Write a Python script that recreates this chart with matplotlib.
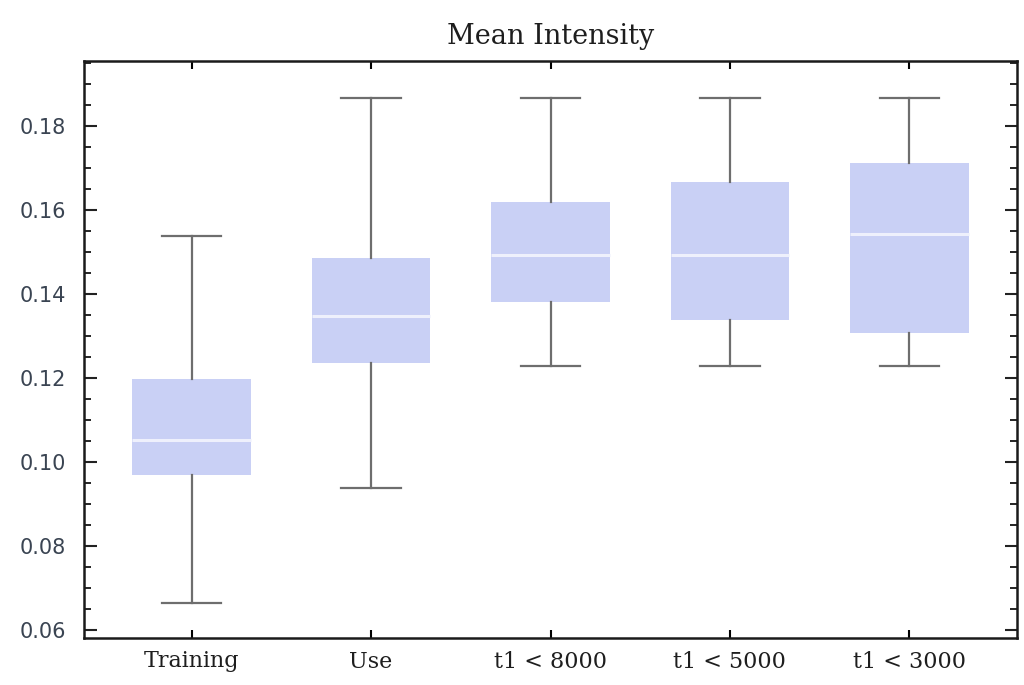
import matplotlib
matplotlib.use("Agg")
import matplotlib.pyplot as plt
from matplotlib.ticker import MultipleLocator, FormatStrFormatter

categories = ["Training", "Use", "t1 < 8000", "t1 < 5000", "t1 < 3000"]
whisker_low = [0.0664, 0.0938, 0.1229, 0.1229, 0.1229]
q1 = [0.0969, 0.1236, 0.1381, 0.1338, 0.1307]
median = [0.1052, 0.1348, 0.1493, 0.1493, 0.1543]
q3 = [0.1198, 0.1486, 0.1619, 0.1667, 0.1712]
whisker_high = [0.1538, 0.1867, 0.1867, 0.1867, 0.1867]

plt.rcParams["font.family"] = ["DejaVu Serif"]

fig = plt.figure(figsize=(10.24, 6.85), dpi=100)
ax = fig.add_axes([84 / 1024, 1 - 638 / 685, (1017 - 84) / 1024, (638 - 61) / 685])

stats = []
for name, lo, a, m, b, hi in zip(categories, whisker_low, q1, median, q3, whisker_high):
    stats.append(dict(label=name, whislo=lo, q1=a, med=m, q3=b, whishi=hi, fliers=[]))

positions = list(range(1, len(categories) + 1))
ax.bxp(
    stats,
    positions=positions,
    widths=0.66,
    patch_artist=True,
    showfliers=False,
    boxprops=dict(facecolor="#c9d0f5", edgecolor="none", linewidth=0),
    medianprops=dict(color="#eef0fc", linewidth=2.2),
    whiskerprops=dict(color="#6e6e6e", linewidth=1.6),
    capprops=dict(color="#6e6e6e", linewidth=1.6),
    capwidths=0.33,
)

ax.set_xlim(0.4, 5.6)
ax.set_ylim(0.0581, 0.1955)
ax.set_xticks(positions)
ax.set_xticklabels(categories, fontsize=16, color="#1e1e1e")
ax.yaxis.set_major_locator(MultipleLocator(0.02))
ax.yaxis.set_minor_locator(MultipleLocator(0.005))
ax.yaxis.set_major_formatter(FormatStrFormatter("%.2f"))
ax.tick_params(axis="y", which="major", direction="in", length=9, width=1.5,
               right=True, labelsize=15, colors="#222222", labelcolor="#3a4452", pad=13)
ax.tick_params(axis="y", which="minor", direction="in", length=5, width=1.2, right=True)
ax.tick_params(axis="x", which="major", direction="in", length=6, width=1.5,
               top=True, pad=9)
for lab in ax.get_yticklabels():
    lab.set_family("DejaVu Sans")
for side in ax.spines.values():
    side.set_linewidth(1.8)
    side.set_color("#1a1a1a")

ax.set_title("Mean Intensity", fontsize=19.5, pad=12, color="#1e1e1e")

fig.savefig("out.png", dpi=100)
